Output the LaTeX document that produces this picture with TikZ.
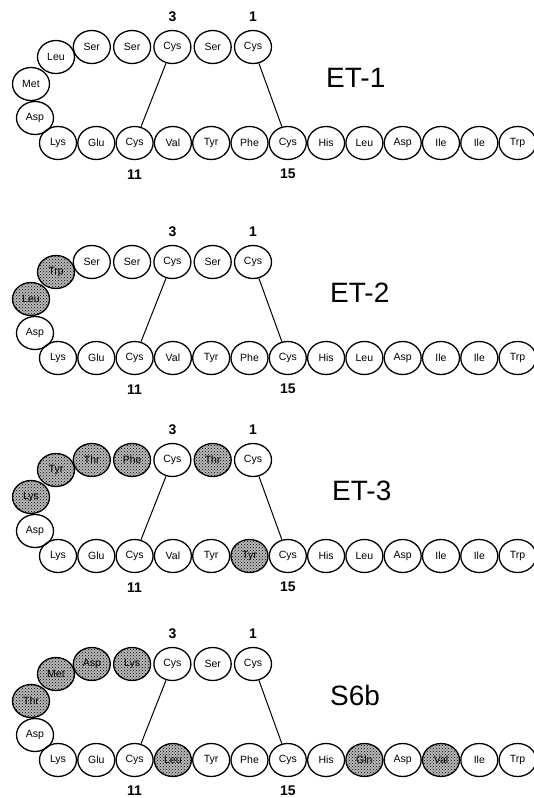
\documentclass[tikz,border=0pt]{standalone}
\usepackage{fontspec}
\setmainfont{Liberation Sans}
\usepackage{tikz}
\usetikzlibrary{positioning,shapes.geometric,patterns}

\begin{document}
\begin{tikzpicture}[x=1pt,y=-1pt,node distance=0pt]
    \tikzstyle{res}=[ellipse,draw,line width=1.3pt,minimum width=37pt,minimum height=33pt,inner sep=0pt,font=\fontsize{10.5}{12}\selectfont]
    \tikzstyle{sub}=[res,fill=gray!55,postaction={pattern=crosshatch dots}]
    \tikzstyle{num}=[inner sep=0pt,font=\fontsize{14}{16}\selectfont\bfseries]
    \tikzstyle{title}=[anchor=west,inner sep=0pt,font=\fontsize{28}{30}\selectfont]
    \tikzstyle{bond}=[line width=1pt]

    \useasboundingbox (0,0) rectangle (534,798);

    % ET-1
    \node[res] (a1) at (253,47) {Cys};
    \node[res] (a2) [left=2pt of a1] {Ser};
    \node[res] (a3) [left=2pt of a2] {Cys};
    \node[res] (a4) [left=2pt of a3] {Ser};
    \node[res] (a5) [left=2pt of a4] {Ser};
    \node[res] (a6) at (56,57) {Leu};
    \node[res] (a7) at (31,84) {Met};
    \node[res] (a8) at (35,118) {Asp};
    \node[res] (a9) at (58,143) {Lys};
    \node[res] (a10) [right=of a9] {Glu};
    \node[res] (a11) [right=of a10] {Cys};
    \node[res] (a12) [right=of a11] {Val};
    \node[res] (a13) [right=of a12] {Tyr};
    \node[res] (a14) [right=of a13] {Phe};
    \node[res] (a15) [right=of a14] {Cys};
    \node[res] (a16) [right=of a15] {His};
    \node[res] (a17) [right=of a16] {Leu};
    \node[res] (a18) [right=of a17] {Asp};
    \node[res] (a19) [right=of a18] {Ile};
    \node[res] (a20) [right=of a19] {Ile};
    \node[res] (a21) [right=of a20] {Trp};
    \node[num] (a3n) [above=8pt of a3] {3};
    \node[num] (a1n) [above=8pt of a1] {1};
    \node[num] (a11n) [below=10pt of a11] {11};
    \node[num] (a15n) [below=9pt of a15] {15};
    \node[title] (atitle) at (326,78) {ET-1};
    \draw[bond] (a3) -- (a11);
    \draw[bond] (a1) -- (a15);

    % ET-2
    \node[res] (b1) at (253,262) {Cys};
    \node[res] (b2) [left=2pt of b1] {Ser};
    \node[res] (b3) [left=2pt of b2] {Cys};
    \node[res] (b4) [left=2pt of b3] {Ser};
    \node[res] (b5) [left=2pt of b4] {Ser};
    \node[sub] (b6) at (56,272) {Trp};
    \node[sub] (b7) at (31,299) {Leu};
    \node[res] (b8) at (35,333) {Asp};
    \node[res] (b9) at (58,358) {Lys};
    \node[res] (b10) [right=of b9] {Glu};
    \node[res] (b11) [right=of b10] {Cys};
    \node[res] (b12) [right=of b11] {Val};
    \node[res] (b13) [right=of b12] {Tyr};
    \node[res] (b14) [right=of b13] {Phe};
    \node[res] (b15) [right=of b14] {Cys};
    \node[res] (b16) [right=of b15] {His};
    \node[res] (b17) [right=of b16] {Leu};
    \node[res] (b18) [right=of b17] {Asp};
    \node[res] (b19) [right=of b18] {Ile};
    \node[res] (b20) [right=of b19] {Ile};
    \node[res] (b21) [right=of b20] {Trp};
    \node[num] (b3n) [above=8pt of b3] {3};
    \node[num] (b1n) [above=8pt of b1] {1};
    \node[num] (b11n) [below=10pt of b11] {11};
    \node[num] (b15n) [below=9pt of b15] {15};
    \node[title] (btitle) at (330,293) {ET-2};
    \draw[bond] (b3) -- (b11);
    \draw[bond] (b1) -- (b15);

    % ET-3
    \node[res] (c1) at (253,460) {Cys};
    \node[sub] (c2) [left=2pt of c1] {Thr};
    \node[res] (c3) [left=2pt of c2] {Cys};
    \node[sub] (c4) [left=2pt of c3] {Phe};
    \node[sub] (c5) [left=2pt of c4] {Thr};
    \node[sub] (c6) at (56,470) {Tyr};
    \node[sub] (c7) at (31,497) {Lys};
    \node[res] (c8) at (35,531) {Asp};
    \node[res] (c9) at (58,556) {Lys};
    \node[res] (c10) [right=of c9] {Glu};
    \node[res] (c11) [right=of c10] {Cys};
    \node[res] (c12) [right=of c11] {Val};
    \node[res] (c13) [right=of c12] {Tyr};
    \node[sub] (c14) [right=of c13] {Tyr};
    \node[res] (c15) [right=of c14] {Cys};
    \node[res] (c16) [right=of c15] {His};
    \node[res] (c17) [right=of c16] {Leu};
    \node[res] (c18) [right=of c17] {Asp};
    \node[res] (c19) [right=of c18] {Ile};
    \node[res] (c20) [right=of c19] {Ile};
    \node[res] (c21) [right=of c20] {Trp};
    \node[num] (c3n) [above=8pt of c3] {3};
    \node[num] (c1n) [above=8pt of c1] {1};
    \node[num] (c11n) [below=10pt of c11] {11};
    \node[num] (c15n) [below=9pt of c15] {15};
    \node[title] (ctitle) at (332,491) {ET-3};
    \draw[bond] (c3) -- (c11);
    \draw[bond] (c1) -- (c15);

    % S6b
    \node[res] (d1) at (253,664) {Cys};
    \node[res] (d2) [left=2pt of d1] {Ser};
    \node[res] (d3) [left=2pt of d2] {Cys};
    \node[sub] (d4) [left=2pt of d3] {Lys};
    \node[sub] (d5) [left=2pt of d4] {Asp};
    \node[sub] (d6) at (56,674) {Met};
    \node[sub] (d7) at (31,701) {Thr};
    \node[res] (d8) at (35,735) {Asp};
    \node[res] (d9) at (58,760) {Lys};
    \node[res] (d10) [right=of d9] {Glu};
    \node[res] (d11) [right=of d10] {Cys};
    \node[sub] (d12) [right=of d11] {Leu};
    \node[res] (d13) [right=of d12] {Tyr};
    \node[res] (d14) [right=of d13] {Phe};
    \node[res] (d15) [right=of d14] {Cys};
    \node[res] (d16) [right=of d15] {His};
    \node[sub] (d17) [right=of d16] {Gln};
    \node[res] (d18) [right=of d17] {Asp};
    \node[sub] (d19) [right=of d18] {Val};
    \node[res] (d20) [right=of d19] {Ile};
    \node[res] (d21) [right=of d20] {Trp};
    \node[num] (d3n) [above=8pt of d3] {3};
    \node[num] (d1n) [above=8pt of d1] {1};
    \node[num] (d11n) [below=9pt of d11] {11};
    \node[num] (d15n) [below=9pt of d15] {15};
    \node[title] (dtitle) at (330,695) {S6b};
    \draw[bond] (d3) -- (d11);
    \draw[bond] (d1) -- (d15);
\end{tikzpicture}
\end{document}
